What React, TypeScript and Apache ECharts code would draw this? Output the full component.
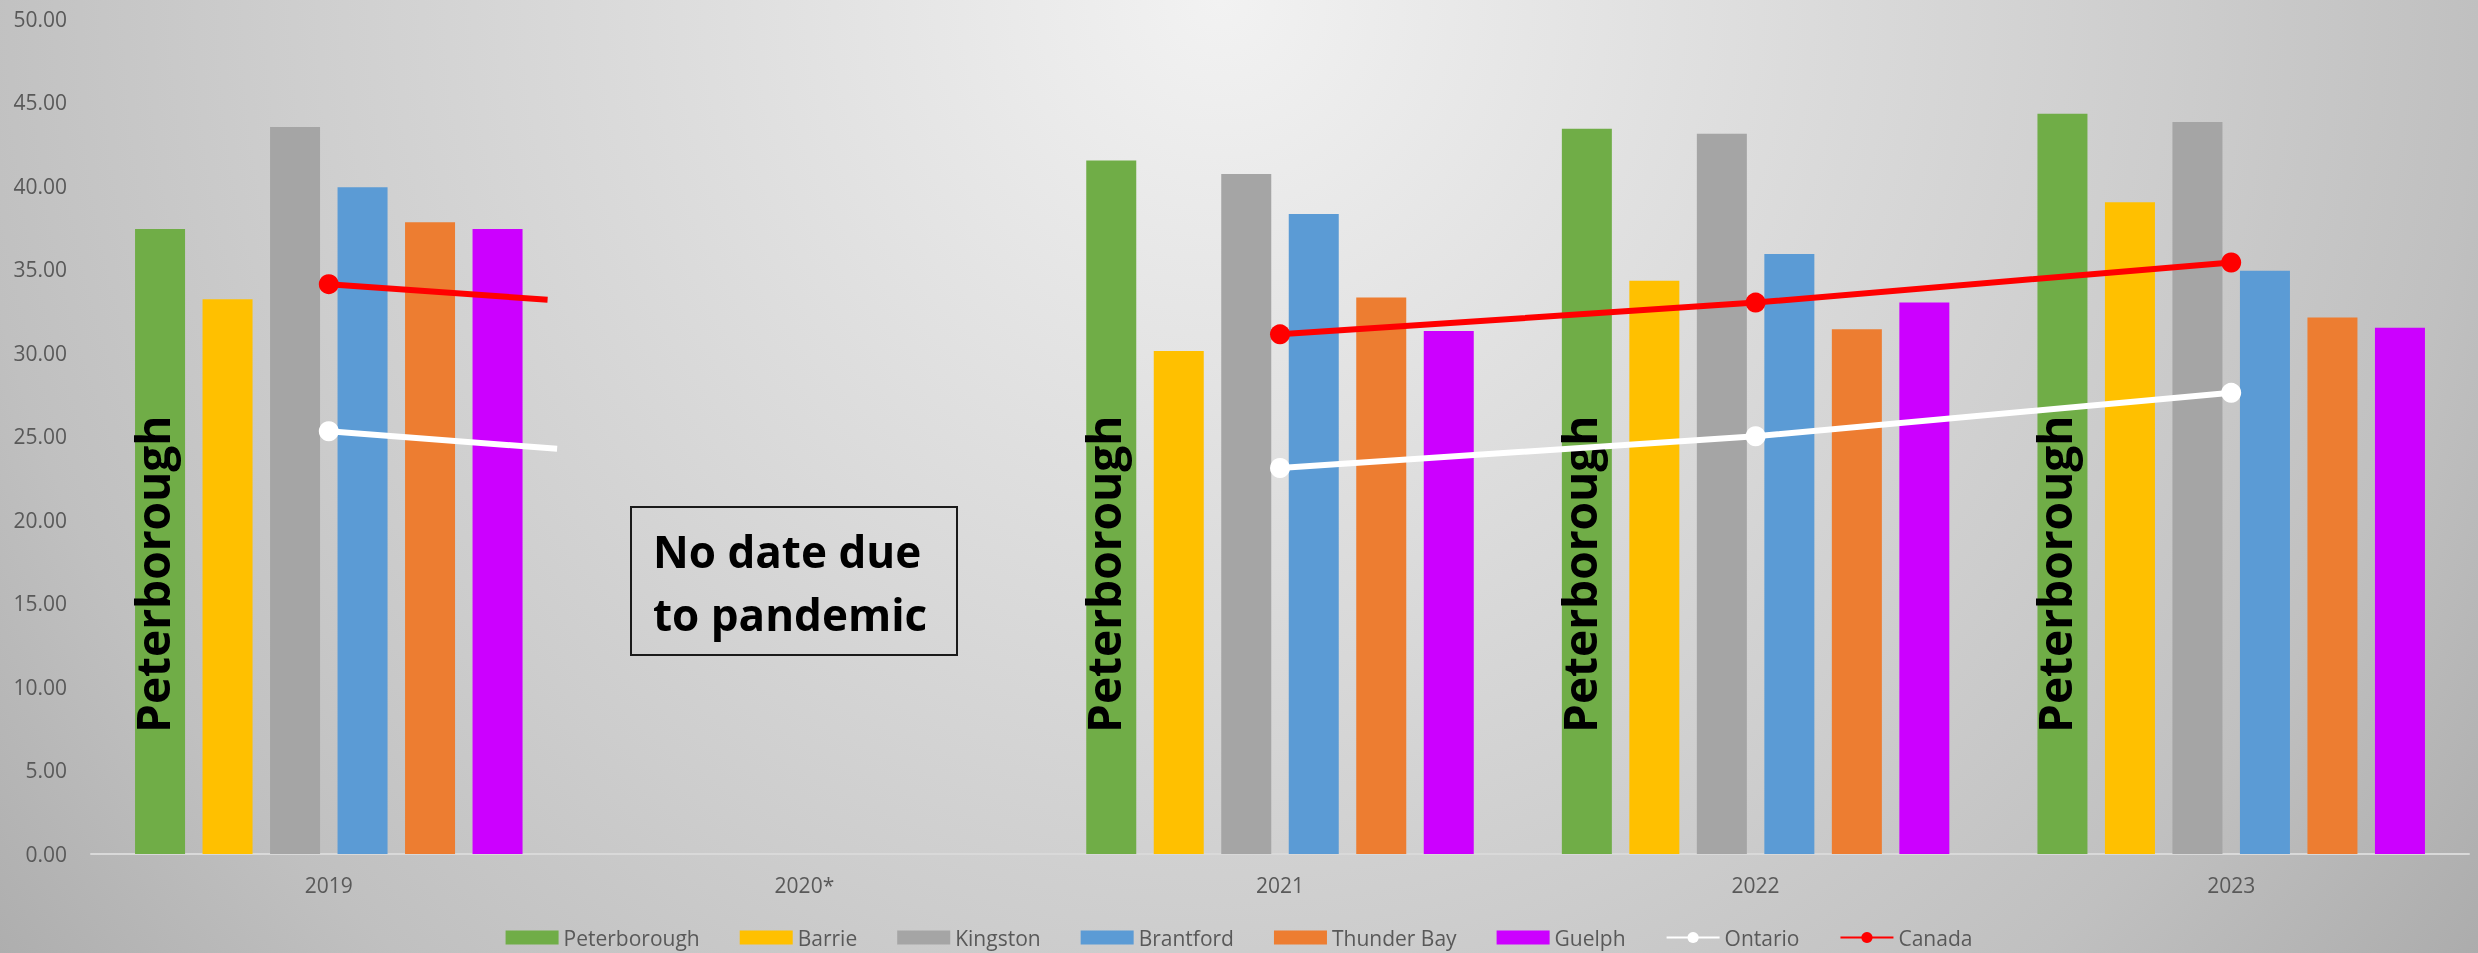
import React, { useEffect, useRef } from "react";
import * as echarts from "echarts";

// ---- Data ----
const years = ["2019", "2020*", "2021", "2022", "2023"];
const peterborough = [37.4, null, 41.5, 43.4, 44.3];
const barrie = [33.2, null, 30.1, 34.3, 39.0];
const kingston = [43.5, null, 40.7, 43.1, 43.8];
const brantford = [39.9, null, 38.3, 35.9, 34.9];
const thunderBay = [37.8, null, 33.3, 31.4, 32.1];
const guelph = [37.4, null, 31.3, 33.0, 31.5];
const ontario = [25.3, null, 23.1, 25.0, 27.6];
const canada = [34.1, null, 31.1, 33.0, 35.4];
// where the 2019 line stubs stop (category position, value)
const ontarioStub = [0.48, 24.25];
const canadaStub = [0.46, 33.17];
const yTicks = { min: 0, max: 50, interval: 5 };
const noteText = "No date due\nto pandemic";

const barSeries = [
  { name: "Peterborough", data: peterborough, color: "#70AD47" },
  { name: "Barrie", data: barrie, color: "#FFC000" },
  { name: "Kingston", data: kingston, color: "#A5A5A5" },
  { name: "Brantford", data: brantford, color: "#5B9BD5" },
  { name: "Thunder Bay", data: thunderBay, color: "#ED7D31" },
  { name: "Guelph", data: guelph, color: "#CC00FF" },
];
const lineSeries = [
  { name: "Ontario", data: ontario, stub: ontarioStub, color: "#FFFFFF" },
  { name: "Canada", data: canada, stub: canadaStub, color: "#FF0000" },
];

const FONT = "'Open Sans', 'Noto Sans', sans-serif";
const TEXT_GREY = "#595959";

export default function App() {
  const ref = useRef<HTMLDivElement>(null);

  useEffect(() => {
    if (!ref.current) return;
    const chart = echarts.init(ref.current, null, { renderer: "svg" });

    const series: any[] = [];
    barSeries.forEach((b, idx) => {
      const s: any = {
        name: b.name,
        type: "bar",
        data: b.data.map((v) => (v == null ? "-" : v)),
        barWidth: 50,
        barGap: "35%",
        itemStyle: { color: b.color },
        xAxisIndex: 0,
        yAxisIndex: 0,
      };
      if (idx === 0) {
        s.label = {
          show: true,
          position: "insideBottom",
          distance: 121,
          rotate: 90,
          align: "left",
          verticalAlign: "middle",
          offset: [0, -8],
          formatter: "{a}",
          color: "#000",
          fontFamily: FONT,
          fontWeight: "bold",
          fontSize: 46,
        };
      }
      series.push(s);
    });

    lineSeries.forEach((l) => {
      const pts: any[] = [];
      l.data.forEach((v, i) => {
        if (v != null && i > 0) pts.push([i, v]);
      });
      const common = {
        name: l.name,
        type: "line",
        xAxisIndex: 1,
        yAxisIndex: 0,
        symbol: "circle",
        symbolSize: 20,
        lineStyle: { color: l.color, width: 6 },
        itemStyle: { color: l.color },
      };
      series.push({ ...common, data: pts });
      series.push({
        ...common,
        data: [[0, l.data[0]], { value: l.stub, symbol: "none" }],
      });
    });

    chart.setOption({
      animation: false,
      backgroundColor: "transparent",
      textStyle: { fontFamily: FONT },
      grid: { left: 91, right: 9, top: 18.5, bottom: 99, containLabel: false },
      xAxis: [
        {
          type: "category",
          data: years,
          axisLine: { lineStyle: { color: "#D9D9D9", width: 2 } },
          axisTick: { show: false },
          axisLabel: { color: TEXT_GREY, fontSize: 21, fontFamily: FONT, margin: 20 },
        },
        {
          type: "value",
          min: -0.5,
          max: 4.5,
          show: false,
        },
      ],
      yAxis: {
        type: "value",
        min: yTicks.min,
        max: yTicks.max,
        interval: yTicks.interval,
        axisLine: { show: false },
        axisTick: { show: false },
        splitLine: { show: false },
        axisLabel: {
          color: TEXT_GREY,
          fontSize: 21,
          fontFamily: FONT,
          margin: 24,
          formatter: (v: number) => v.toFixed(2),
        },
      },
      legend: {
        left: "center",
        top: 922,
        itemWidth: 53,
        itemHeight: 14,
        itemGap: 40,
        textStyle: { color: TEXT_GREY, fontSize: 21, fontFamily: FONT },
        data: [
          ...barSeries.map((b) => ({ name: b.name, icon: "rect" })),
          ...lineSeries.map((l) => ({ name: l.name })),
        ],
      },
      graphic: [
        {
          type: "group",
          left: 630,
          top: 506,
          children: [
            {
              type: "rect",
              shape: { x: 0, y: 0, width: 326, height: 148 },
              style: { fill: "transparent", stroke: "#1a1a1a", lineWidth: 2 },
            },
            {
              type: "text",
              x: 22,
              y: 12,
              style: {
                text: noteText,
                fill: "#000",
                font: `bold 44px ${FONT}`,
                lineHeight: 63,
                verticalAlign: "top",
                align: "left",
              },
            },
          ],
        },
      ],
      series,
    });

    return () => chart.dispose();
  }, []);

  return (
    <div
      ref={ref}
      style={{
        position: "fixed",
        left: 0,
        top: 0,
        width: 2478,
        height: 953,
        background:
          "radial-gradient(circle 1700px at 1220px 0px, #f2f2f2 0%, #cdcdcd 56%, #c0c0c0 74%, #ababab 94%, #a8a8a8 100%)",
      }}
    />
  );
}
